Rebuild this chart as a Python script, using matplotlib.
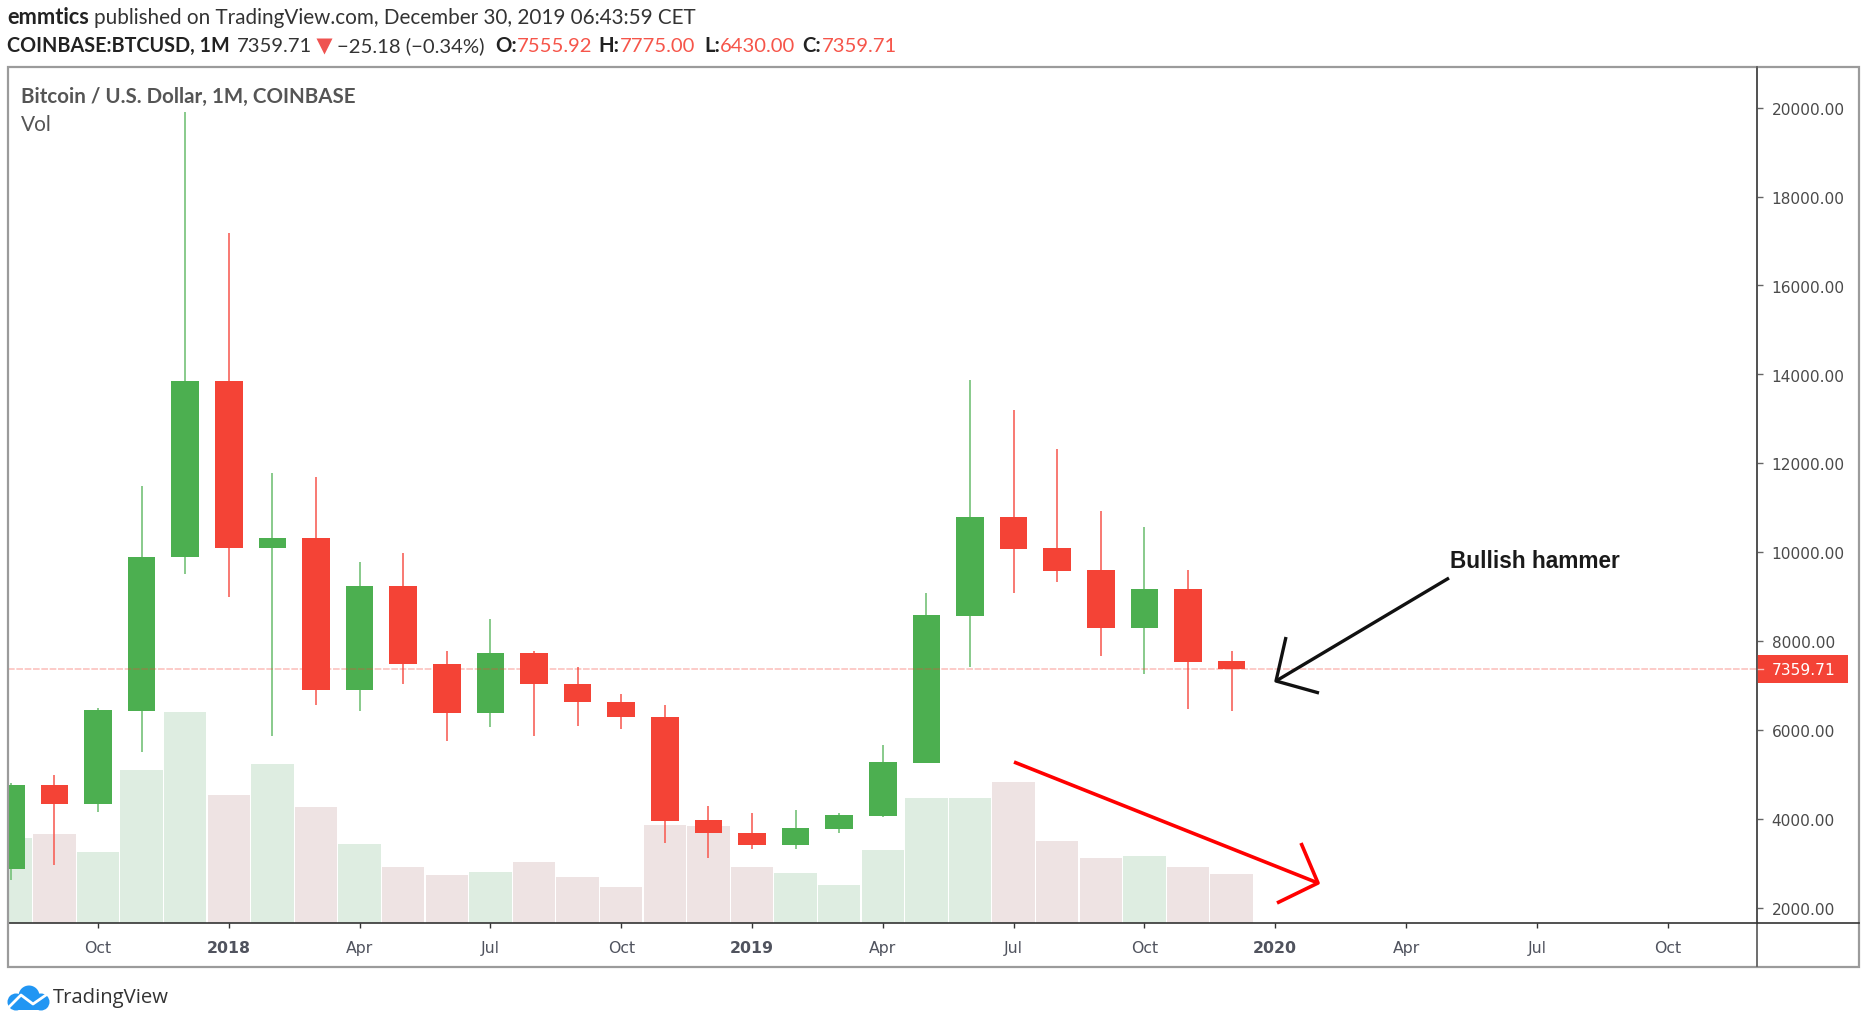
import numpy as np
import matplotlib
matplotlib.use('Agg')
import matplotlib.pyplot as plt
from matplotlib.patches import Rectangle, Circle
from matplotlib.transforms import blended_transform_factory, ScaledTranslation

# Monthly candles, Aug 2017 to Dec 2019
months = ['Aug 17', 'Sep 17', 'Oct 17', 'Nov 17', 'Dec 17',
          'Jan 18', 'Feb 18', 'Mar 18', 'Apr 18', 'May 18', 'Jun 18', 'Jul 18',
          'Aug 18', 'Sep 18', 'Oct 18', 'Nov 18', 'Dec 18',
          'Jan 19', 'Feb 19', 'Mar 19', 'Apr 19', 'May 19', 'Jun 19', 'Jul 19',
          'Aug 19', 'Sep 19', 'Oct 19', 'Nov 19', 'Dec 19']
opens = [2860, 4750, 4340, 6420, 9900,
         13850, 10100, 10310, 6900, 9240, 7490, 6390,
         7730, 7040, 6630, 6300, 3980,
         3690, 3420, 3780, 4070, 5260, 8560, 10780,
         10090, 9600, 8300, 9180, 7555.92]
highs = [4810, 4975, 6500, 11490, 19890,
         17170, 11790, 11680, 9780, 9990, 7780, 8500,
         7780, 7410, 6810, 6560, 4280,
         4140, 4200, 4140, 5670, 9090, 13880, 13200,
         12330, 10930, 10570, 9600, 7775]
lows = [2630, 2970, 4160, 5510, 9500,
        9000, 5870, 6570, 6430, 7040, 5760, 6060,
        5870, 6090, 6010, 3450, 3120,
        3330, 3330, 3670, 4030, 5260, 7420, 9070,
        9330, 7670, 7260, 6480, 6430]
closes = [4750, 4340, 6450, 9900, 13850,
          10100, 10310, 6900, 9240, 7490, 6390, 7730,
          7040, 6630, 6280, 3960, 3690,
          3420, 3800, 4090, 5280, 8580, 10780, 10060,
          9580, 8300, 9180, 7530, 7359.71]
# volume in chart units, up/down colour follows the candle except where the chart differs
volumes = [85, 89, 71, 153, 211,
           128, 159, 116, 79, 56, 48, 51,
           61, 46, 36, 98, 97,
           56, 50, 38, 73, 125, 125, 141,
           82, 65, 67, 56, 49]
vol_up = [1, 0, 1, 1, 1,
          0, 1, 0, 1, 0, 0, 1,
          0, 0, 0, 0, 0,
          0, 1, 1, 1, 1, 1, 0,
          0, 0, 1, 0, 0]

price_ticks = list(range(2000, 20001, 2000))
time_labels = ['Oct', '2018', 'Apr', 'Jul', 'Oct', '2019', 'Apr', 'Jul', 'Oct', '2020', 'Apr', 'Jul', 'Oct']
time_ticks = list(range(0, 37, 3))
last_price = 7359.71

GREEN = '#4CAF50'
RED = '#F44336'
W, H = 1870, 1024

fig = plt.figure(figsize=(W / 100, H / 100), dpi=100, facecolor='white')


def rect_px(x0, y0, x1, y1):
    return [x0 / W, 1 - y1 / H, (x1 - x0) / W, (y1 - y0) / H]


# price pane
ax = fig.add_axes(rect_px(8, 67.7, 1757, 922.7))
ax.set_zorder(3)
ax.patch.set_visible(False)
x = np.arange(len(months)) - 2
ax.set_xlim((8 - 98) / 43.6, (1757 - 98) / 43.6)
ax.set_ylim(2000 + (907 - 922) / 0.04445, 2000 + (907 - 67) / 0.04445)

for xi, o, h, l, c in zip(x, opens, highs, lows, closes):
    up = c >= o
    ax.plot([xi, xi], [l, h], color='#74C178' if up else '#F7625A', lw=1.2, solid_capstyle='butt', zorder=3)
    ax.add_patch(Rectangle((xi - 0.315, min(o, c)), 0.63, abs(c - o), facecolor=GREEN if up else RED,
                           edgecolor='none', zorder=4))

ax.axhline(last_price, color='#F44336', lw=1.2, ls=(0, (4, 1)), alpha=0.32, zorder=5)

# volume bars sit behind the candles
ax_vol = ax.twinx()
ax_vol.set_zorder(1)
ax_vol.set_ylim(0, 855)
ax_vol.bar(x, volumes, width=0.975, color=['#DEEDE1' if u else '#EEE3E3' for u in vol_up], linewidth=0)
ax_vol.axis('off')

ax.yaxis.tick_right()
ax.set_yticks(price_ticks)
ax.set_yticklabels([f'{p:.2f}' for p in price_ticks], fontsize=11.1, color='#4a4a4a', family='DejaVu Sans')
ax.tick_params(axis='y', length=4.3, width=1, color='#666666', pad=6.2)
down = ScaledTranslation(0, -1.2 / 100, fig.dpi_scale_trans)
for lab in ax.get_yticklabels():
    lab.set_transform(lab.get_transform() + down)
ax.set_xticks(time_ticks)
ax.set_xticklabels(time_labels, fontsize=11.3, color='#50535E', family='DejaVu Sans')
for lab in ax.get_xticklabels():
    if lab.get_text().isdigit():
        lab.set_fontweight('bold')
ax.tick_params(axis='x', length=3.6, width=1, color='#333333', pad=9.3)
for side in ['left', 'top']:
    ax.spines[side].set_visible(False)
for side in ['right', 'bottom']:
    ax.spines[side].set_color('#333333')
    ax.spines[side].set_linewidth(1.2)

# last price tag on the scale
tr = blended_transform_factory(ax.transAxes, ax.transData)
ax.add_patch(Rectangle((1, last_price - 315), 91 / 1749, 630, transform=tr, facecolor=RED, edgecolor='none',
                       clip_on=False, zorder=6))
ax.plot([1, 1 + 6 / 1749], [last_price, last_price], transform=tr, color='#F9BDB8', lw=1, clip_on=False, zorder=7)
ax.text(1 + 14.5 / 1749, last_price, f'{last_price:.2f}', transform=tr, color='white', fontsize=11.1,
        family='DejaVu Sans', va='center_baseline', ha='left', zorder=7)

# overlay in pixels: frame, header, hand drawn arrows, logo
ov = fig.add_axes([0, 0, 1, 1])
ov.set_zorder(5)
ov.set_xlim(0, W)
ov.set_ylim(H, 0)
ov.axis('off')
ov.patch.set_visible(False)

ov.add_patch(Rectangle((8, 67), 1851, 899.5, facecolor='none', edgecolor='#9b9b9b', lw=1.6))
ov.plot([1757, 1757], [67, 966], color='#555555', lw=1.2)
ov.plot([1757, 1859], [922.7, 922.7], color='#333333', lw=1.2)

hdr = dict(family='Lato', va='center')
ov.text(7, 18, 'emmtics', color='#222222', fontweight='bold', fontsize=15.7, **hdr)
ov.text(94, 18, 'published on TradingView.com, December 30, 2019 06:43:59 CET', color='#333333',
        fontsize=14.9, **hdr)
ov.text(7, 46, 'COINBASE:BTCUSD, 1M', color='#222222', fontweight='bold', fontsize=14.2, **hdr)
ov.text(237, 46, '7359.71', color='#333333', fontsize=14.6, **hdr)
ov.plot([324], [46], marker='v', ms=12, color='#EF5350', mec='none')
ov.text(337, 46, '\u221225.18 (\u22120.34%)', color='#333333', fontsize=14.6, **hdr)
for px, lab in [(495, 'O:'), (598, 'H:'), (704, 'L:'), (802, 'C:')]:
    ov.text(px, 46, lab, color='#222222', fontweight='bold', fontsize=14.6, **hdr)
for px, val in [(517, '7555.92'), (620, '7775.00'), (720, '6430.00'), (822, '7359.71')]:
    ov.text(px, 46, val, color='#F6554A', fontsize=14.6, **hdr)

ov.text(21, 97, 'Bitcoin / U.S. Dollar, 1M, COINBASE', family='Lato', fontweight='bold', fontsize=14.8,
        color='#555555', va='center')
ov.text(21, 125, 'Vol', family='Lato', fontsize=15, color='#555555', va='center')

ov.plot([1449, 1276], [578, 681], color='#111111', lw=2.4, solid_capstyle='butt')
ov.plot([1286, 1276, 1319], [637, 681, 693], color='#111111', lw=2.4, solid_joinstyle='round', solid_capstyle='butt')
ov.text(1450, 562, 'Bullish hammer', family='Liberation Sans', fontweight='bold', fontsize=16.3, color='#1a1a1a',
        va='center')

ov.plot([1014, 1318], [762, 883], color='#FF0000', lw=2.6, solid_capstyle='butt')
ov.plot([1301, 1318, 1277], [843, 883, 903], color='#FF0000', lw=2.6, solid_joinstyle='round', solid_capstyle='butt')

# TradingView logo
blue = '#2196F3'
for cx, cy, r in [(16, 1002, 8.5), (29, 996, 10.5), (41, 1002, 8.5)]:
    ov.add_patch(Circle((cx, cy), r, facecolor=blue, edgecolor='none'))
ov.add_patch(Rectangle((16, 1000), 25, 10, facecolor=blue, edgecolor='none'))
ov.plot([9, 21, 33, 46], [1007, 995, 1004, 995], color='white', lw=2)
ov.text(53, 998, 'TradingView', family='Open Sans', fontsize=14.6, color='#333333', va='center')

fig.savefig('out.png', dpi=100)
